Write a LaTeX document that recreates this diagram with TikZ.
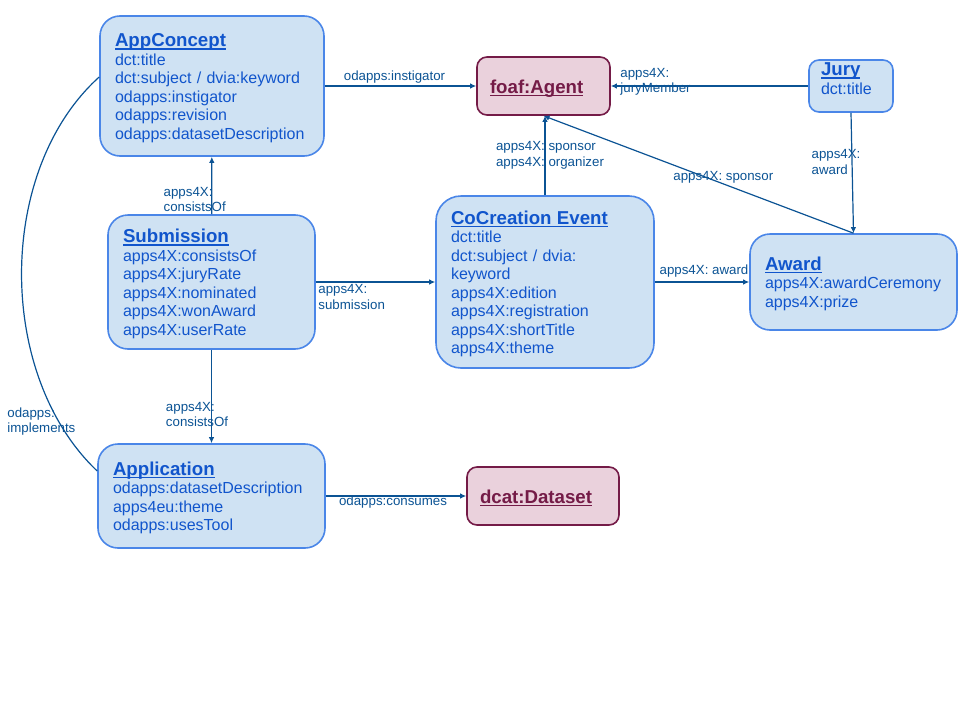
\documentclass[tikz,border=0pt]{standalone}
\usepackage{fontspec}
\setmainfont{Liberation Sans}
\usepackage{tikz}
\usetikzlibrary{arrows.meta}

\definecolor{boxfill}{HTML}{CFE2F3}
\definecolor{boxline}{HTML}{4A86E8}
\definecolor{boxtext}{HTML}{1155CC}
\definecolor{agentfill}{HTML}{EAD1DC}
\definecolor{agentline}{HTML}{741B47}
\definecolor{linkblue}{HTML}{0B5394}

\newcommand\itemsize{\fontsize{16}{18.5}\selectfont}
\newcommand\linksize{\fontsize{13.3}{15.5}\selectfont}
% bold title with a thin underline that adds no depth
\newsavebox\titlebox
\newcommand\classname[1]{{\fontsize{18.67}{18.5}\selectfont\bfseries
    \sbox\titlebox{#1}\smash{\rlap{\rule[-3pt]{\wd\titlebox}{1.5pt}}}\usebox\titlebox}}

\begin{document}
\begin{tikzpicture}[x=1pt, y=-1pt]

    % Define styles
    \tikzstyle{classbox} = [
        rectangle, rounded corners=20pt,
        draw=boxline, line width=1.6pt, fill=boxfill,
        text=boxtext, align=left, font=\itemsize,
        inner xsep=15pt, inner ysep=2pt, text height=17pt
    ]
    \tikzstyle{agentbox} = [
        classbox, rounded corners=10pt,
        draw=agentline, fill=agentfill, text=agentline,
        inner xsep=13pt, text height=14pt, text depth=0pt
    ]
    \tikzstyle{arrow} = [line width=1.2pt, draw=linkblue, ->, >={Latex[length=6pt,width=5.5pt]}]
    \tikzstyle{link} = [font=\linksize, text=linkblue, align=left, inner sep=2pt]

    \useasboundingbox (0,0) rectangle (960,720);

    % Nodes (classes)
    \node[classbox, text width=194pt, minimum height=140pt] (appconcept) at (212,86)
        {\classname{AppConcept}\\dct:title\\dct:subject / dvia:keyword\\odapps:instigator\\odapps:revision\\odapps:datasetDescription};
    \node[agentbox, text width=107pt, minimum height=58pt] (agent) at (543.5,86)
        {\classname{foaf:Agent}};
    \node[classbox, rounded corners=10pt, inner xsep=12pt, inner ysep=0pt, text width=60pt, minimum height=52pt,
          text height=14pt, text depth=35pt] (jury) at (851,86)
        {\classname{Jury}\\dct:title};
    \node[classbox, text width=177pt, minimum height=134pt] (submission) at (211.5,282)
        {\classname{Submission}\\apps4X:consistsOf\\apps4X:juryRate\\apps4X:nominated\\apps4X:wonAward\\apps4X:userRate};
    \node[classbox, rounded corners=25pt, text width=188pt, minimum height=172pt] (cocreation) at (545,282)
        {\classname{CoCreation Event}\\dct:title\\dct:subject / dvia:\\keyword\\apps4X:edition\\apps4X:registration\\apps4X:shortTitle\\apps4X:theme};
    \node[classbox, text width=177pt, minimum height=96pt] (award) at (853.5,282)
        {\classname{Award}\\apps4X:awardCeremony\\apps4X:prize};
    \node[classbox, text width=197pt, minimum height=104pt] (application) at (211.5,496)
        {\classname{Application}\\odapps:datasetDescription\\apps4eu:theme\\odapps:usesTool};
    \node[agentbox, text width=126pt, minimum height=58pt] (dataset) at (543,496)
        {\classname{dcat:Dataset}};

    % Arrows
    \draw[arrow] (appconcept) -- node[link, above, xshift=-6pt] {odapps:instigator} (agent);
    \draw[arrow] (jury) -- node[link, pos=1, anchor=west, xshift=7pt, yshift=4pt] {apps4X:\\juryMember} (agent);
    \draw[arrow] (cocreation.north) -- node[link, midway, xshift=5pt] {apps4X: sponsor\\apps4X: organizer} (cocreation.north |- agent.south);
    \draw[arrow] (award.north) -- node[link, pos=0.42, above, yshift=-2pt] {apps4X: sponsor} (agent.south);
    \draw[arrow] (jury.south) -- node[link, pos=0.41, xshift=-16pt] {apps4X:\\award} (award.north);
    \draw[arrow] (cocreation) -- node[link, above, yshift=2pt, xshift=2pt] {apps4X: award} (award);
    \draw[arrow] (submission) -- node[link, pos=0.27, xshift=-17pt, yshift=-1pt] {apps4X:\\consistsOf} (appconcept);
    \draw[arrow] (submission) -- node[link, pos=0, anchor=north west] {apps4X:\\submission} (cocreation);
    \draw[arrow] (submission) -- node[link, pos=0.68, xshift=-14.5pt, yshift=-1pt] {apps4X:\\consistsOf} (application);
    \draw[arrow] (application) -- node[link, midway, xshift=-3pt, yshift=-6pt] {odapps:consumes} (dataset);
    \draw[line width=1.2pt, draw=linkblue] ([yshift=9pt]appconcept.west)
        .. controls (-4,170) and (-4,375) ..
        node[link, pos=0.84, xshift=-15pt, yshift=-4pt] {odapps:\\implements}
        ([yshift=25pt]application.west);

\end{tikzpicture}
\end{document}
